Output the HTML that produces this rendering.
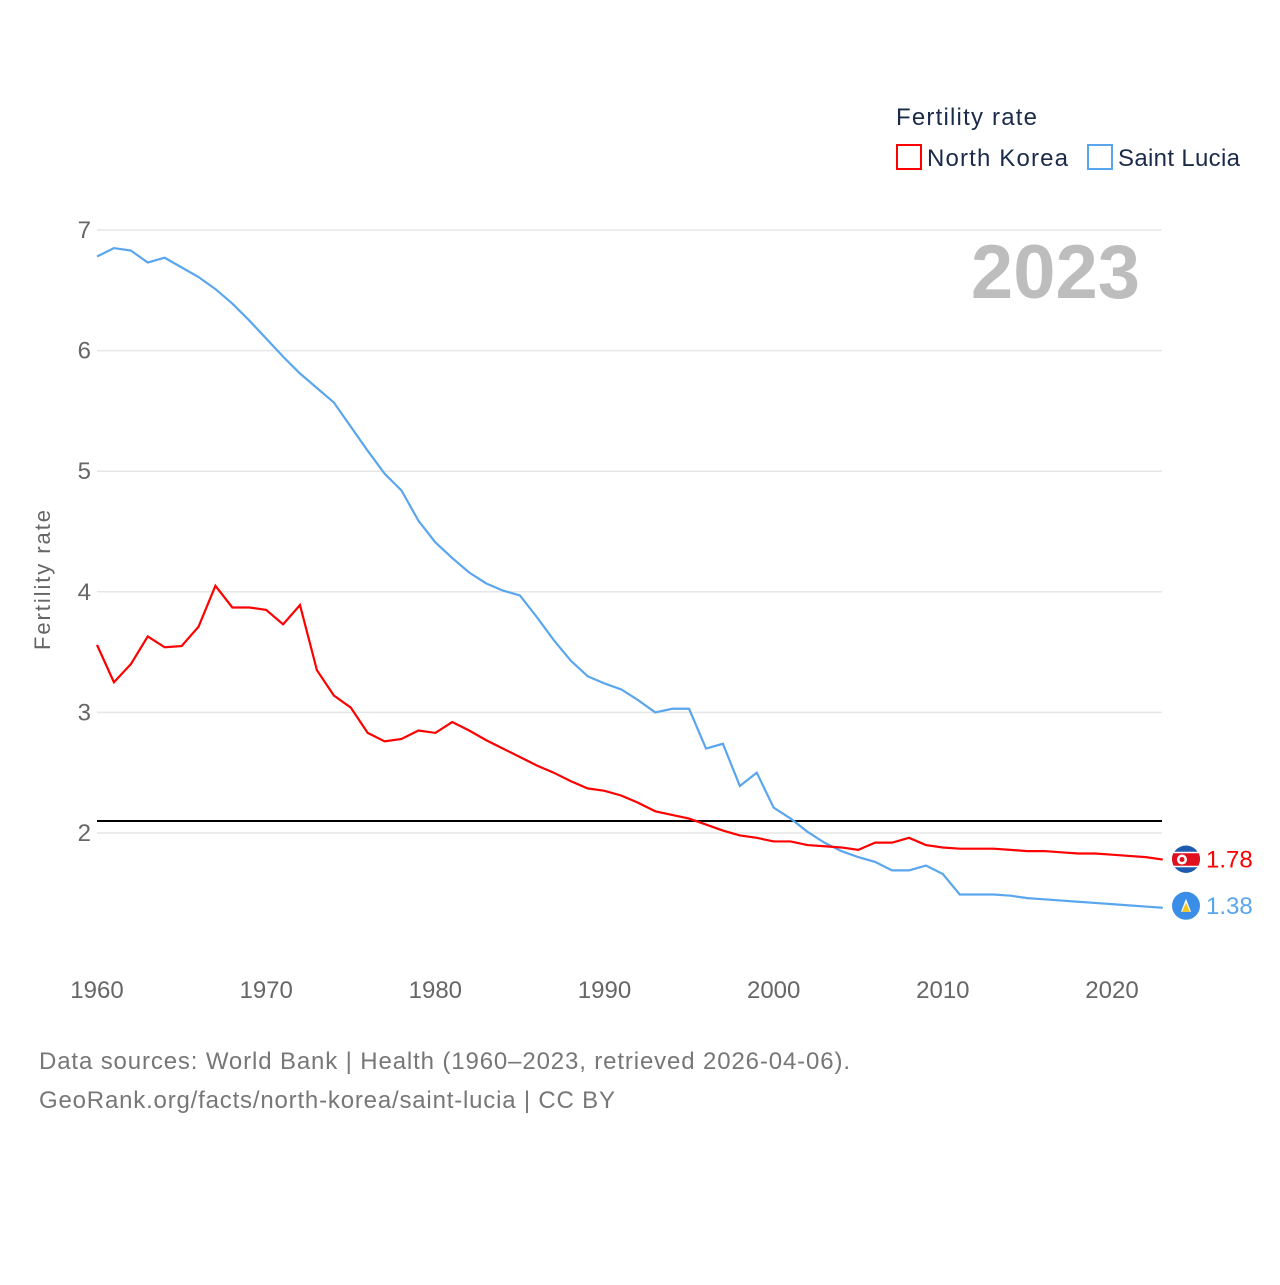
<!DOCTYPE html>
<html><head><meta charset="utf-8"><style>
body{margin:0;background:#fff;font-family:"Liberation Sans",sans-serif}
</style></head><body>
<svg id="c" width="1280" height="1280" xmlns="http://www.w3.org/2000/svg">
<defs><clipPath id="nkclip"><circle cx="1186" cy="859" r="14"/></clipPath></defs>
<rect width="1280" height="1280" fill="#fff"/>
<g id="grid"></g>
<g id="lines"></g>
<text x="1140" y="298" text-anchor="end" font-size="76" font-weight="bold" fill="#bdbdbd">2023</text>
<text x="896" y="125" font-size="24" fill="#1a2b4a" textLength="141">Fertility rate</text>
<g><rect x="897" y="145" width="24" height="24" fill="none" stroke="#f00" stroke-width="2"/><text x="927" y="166" font-size="24" fill="#1a2b4a" textLength="141">North Korea</text></g>
<g><rect x="1088" y="145" width="24" height="24" fill="none" stroke="#5aa6ee" stroke-width="2"/><text x="1118" y="166" font-size="24" fill="#1a2b4a" textLength="122">Saint Lucia</text></g>
<text transform="translate(50,580) rotate(-90)" text-anchor="middle" font-size="22" fill="#666" textLength="140">Fertility rate</text>
<text x="39" y="1069" font-size="24" fill="#777" textLength="811">Data sources: World Bank | Health (1960–2023, retrieved 2026-04-06).</text>
<text x="39" y="1108" font-size="24" fill="#777" textLength="576">GeoRank.org/facts/north-korea/saint-lucia | CC BY</text>
</svg>
<script>
const years=[];for(let y=1960;y<=2023;y++)years.push(y);
const northKorea=[3.56,3.25,3.40,3.63,3.54,3.55,3.71,4.05,3.87,3.87,3.85,3.73,3.89,3.35,3.14,3.04,2.83,2.76,2.78,2.85,2.83,2.92,2.85,2.77,2.70,2.63,2.56,2.50,2.43,2.37,2.35,2.31,2.25,2.18,2.15,2.12,2.07,2.02,1.98,1.96,1.93,1.93,1.90,1.89,1.88,1.86,1.92,1.92,1.96,1.90,1.88,1.87,1.87,1.87,1.86,1.85,1.85,1.84,1.83,1.83,1.82,1.81,1.80,1.78];
const saintLucia=[6.78,6.85,6.83,6.73,6.77,6.69,6.61,6.51,6.39,6.25,6.10,5.95,5.81,5.69,5.57,5.37,5.17,4.98,4.84,4.59,4.41,4.28,4.16,4.07,4.01,3.97,3.79,3.60,3.43,3.30,3.24,3.19,3.10,3.00,3.03,3.03,2.70,2.74,2.39,2.50,2.21,2.12,2.01,1.92,1.85,1.80,1.76,1.69,1.69,1.73,1.66,1.49,1.49,1.49,1.48,1.46,1.45,1.44,1.43,1.42,1.41,1.40,1.39,1.38];
const yTicks=[2,3,4,5,6,7];
const xTicks=[1960,1970,1980,1990,2000,2010,2020];
const replacement=2.1;
const NS="http://www.w3.org/2000/svg";
const X=y=>97+(y-1960)*(1112-97)/60;
const Y=v=>833-(v-2)*(833-230)/5;
function mk(tag,attrs,parent){const e=document.createElementNS(NS,tag);for(const k in attrs)e.setAttribute(k,attrs[k]);parent.appendChild(e);return e;}
const grid=document.getElementById('grid'),lines=document.getElementById('lines');
yTicks.forEach(t=>{
 const l=mk('line',{x1:97,x2:1162,y1:Y(t),y2:Y(t),stroke:'#e6e6e6','stroke-width':1.5},grid);
 
 
 const tx=mk('text',{x:91,y:Y(t)+8,'text-anchor':'end','font-size':24,fill:'#666'},grid);tx.textContent=t;
 
 
});
xTicks.forEach(t=>{
 const tx=mk('text',{x:X(t),y:998,'text-anchor':'middle','font-size':24,fill:'#666'},grid);tx.textContent=t;
 
 
});
const rl=mk('line',{x1:97,x2:1162,y1:Y(replacement),y2:Y(replacement),stroke:'#000','stroke-width':2},lines);


function series(vals,color,name){
 const p=mk('polyline',{points:vals.map((v,i)=>X(years[i])+','+Y(v)).join(' '),fill:'none',stroke:color,'stroke-width':2.2},lines);
 
 
}
series(saintLucia,'#5aa6ee','saint-lucia');
series(northKorea,'#f00','north-korea');
function endLabel(vals,color,name,dy,isNK){
 const v=vals[vals.length-1],cy=Y(v)+dy,x=1186;
 const g=mk('g',{},lines);
 
 
 if(isNK){
  const f=mk('g',{'clip-path':'url(#nkclip)'},g);
  mk('circle',{cx:x,cy:cy,r:14,fill:'#1e5bb0'},f);
  mk('rect',{x:x-14,y:cy-7,width:28,height:14,fill:'#e0101e'},f);
  mk('line',{x1:x-14,x2:x+14,y1:cy-7,y2:cy-7,stroke:'#fff','stroke-width':1.5},f);
  mk('line',{x1:x-14,x2:x+14,y1:cy+7,y2:cy+7,stroke:'#fff','stroke-width':1.5},f);
  mk('circle',{cx:x-4,cy:cy,r:5,fill:'#fff'},f);
  mk('circle',{cx:x-4,cy:cy,r:2.5,fill:'#e0101e'},f);
 }else{
  mk('circle',{cx:x,cy:cy,r:14,fill:'#3a8ee8'},g);
  mk('polygon',{points:`${x},${cy-7} ${x-5},${cy+6} ${x+5},${cy+6}`,fill:'#fff'},g);
  mk('polygon',{points:`${x},${cy-3} ${x-4},${cy+6} ${x+4},${cy+6}`,fill:'#f5c518'},g);
 }
 const t=mk('text',{x:1206,y:cy+8,'font-size':24,fill:color},g);t.textContent=v.toFixed(2);
}
endLabel(northKorea,'#f00','north-korea',0,true);
endLabel(saintLucia,'#5aa6ee','saint-lucia',-2,false);
</script>
</body></html>
